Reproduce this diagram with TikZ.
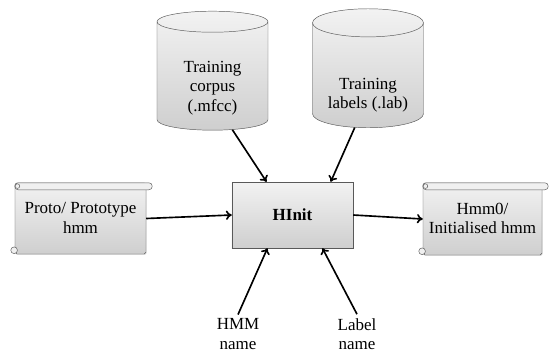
\documentclass[tikz,border=0pt]{standalone}
\usepackage{fontspec}
\setmainfont{Liberation Serif}
\usetikzlibrary{arrows.meta,positioning,shapes.geometric,shadows}
\newcommand{\scrollroll}[1]{%
  \draw[roll,rounded corners=0.1cm] (#1.north west) rectangle
       ([xshift=0.18cm,yshift=-0.21cm]#1.north east);
  \draw[roll] ([xshift=0.08cm,yshift=-0.1cm]#1.north west) circle (0.07cm);
  \draw[roll] ([xshift=-0.02cm,yshift=0.12cm]#1.south west) circle (0.1cm);}

\begin{document}
\begin{tikzpicture}[
  x=0.03cm, y=-0.03cm,
  font=\fontsize{14.5}{16.5}\selectfont,
  grad/.style={draw=gray!70!black,top color=gray!10,bottom color=gray!38},
  cyl/.style={grad,cylinder,shape border rotate=90,aspect=0.32,align=center,
              minimum width=3.33cm,minimum height=3.57cm},
  scrollbox/.style={grad,rounded corners=1.5pt,align=center,
              drop shadow={opacity=0.25,shadow xshift=0.6pt,shadow yshift=-0.8pt}},
  roll/.style={draw=gray!70!black,fill=gray!12},
  arr/.style={-{To[length=5pt,width=8pt]},line width=1.4pt}
]
\useasboundingbox (0,0) rectangle (557,352);
\node[cyl] (corpus) at (212.5,78) {\\[10pt]Training\\corpus\\(.mfcc)};
\node[cyl] (labels) at (368,78) {\\[22pt]Training\\labels (.lab)};
\node[grad,minimum width=3.63cm,minimum height=1.98cm,font=\fontsize{14.5}{16.5}\selectfont\bfseries,
      drop shadow={opacity=0.25,shadow xshift=0.6pt,shadow yshift=-0.8pt}]
      (hinit) at (292.5,215) {HInit};
\node[scrollbox,minimum width=3.93cm,minimum height=2.13cm] (proto) at (80.5,218.5)
      {\\[-8pt]Proto/ Prototype\\hmm};
\scrollroll{proto}
\node[scrollbox,minimum width=3.57cm,minimum height=2.16cm] (hmm0) at (482.5,219)
      {\\[-8pt]Hmm0/\\Initialised hmm};
\scrollroll{hmm0}
\node[align=center] (hmmname) at (238,334) {HMM\\name};
\node[align=center] (labname) at (357,334) {Label\\name};
\draw[arr] (corpus.291) -- (hinit.128);
\draw[arr] (labels.255) -- (hinit.41);
\draw[arr] (proto.east) -- (hinit.west);
\draw[arr] (hinit.east) -- (hmm0.west);
\draw[arr] (hmmname.north) -- (hinit.233);
\draw[arr] (labname.north) -- (hinit.312);
\end{tikzpicture}
\end{document}
